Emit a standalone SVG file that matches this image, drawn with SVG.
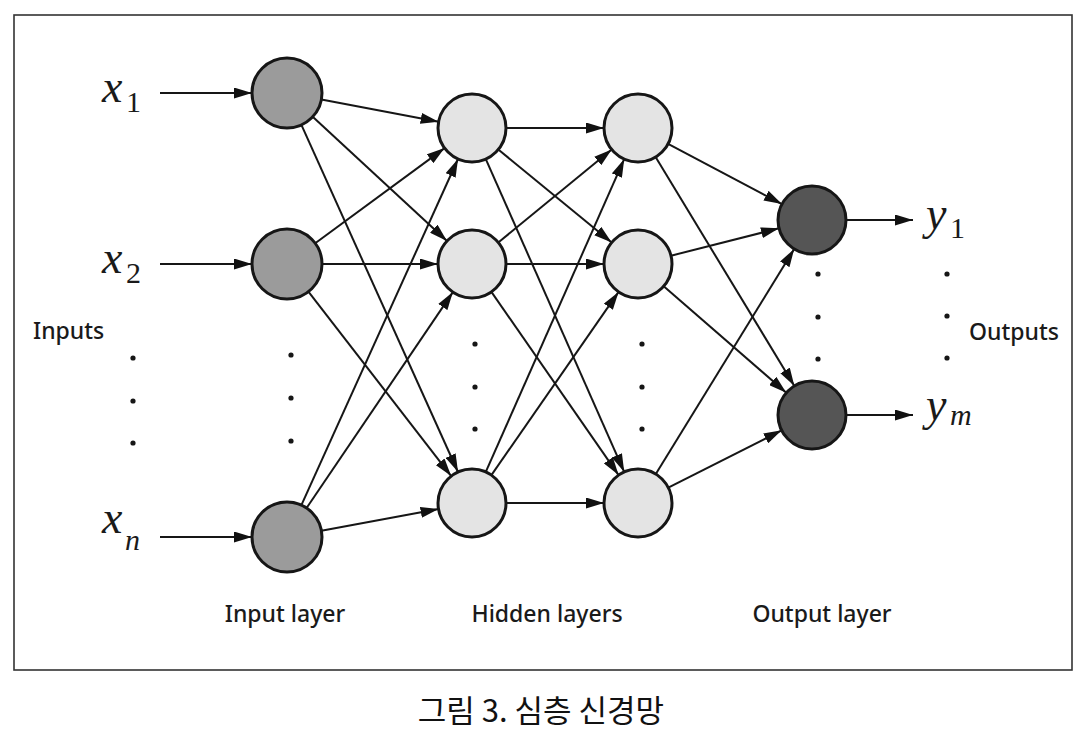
<svg xmlns="http://www.w3.org/2000/svg" width="1088" height="756" viewBox="0 0 1088 756">
<defs>
<marker id="ah" markerUnits="userSpaceOnUse" markerWidth="19" markerHeight="11" refX="18" refY="5.5" orient="auto">
<path d="M0,0 L18,5.5 L0,11 z" fill="#111"/>
</marker>
<style>
.n{stroke:#161616;stroke-width:3}
.in{fill:#9b9b9b}
.hd{fill:#e4e4e4}
.out{fill:#555555}
.e{stroke:#161616;stroke-width:2;fill:none;marker-end:url(#ah)}
.dot{fill:#161616}
.math{font-family:"Liberation Serif",serif;font-style:italic;fill:#1a1a1a}
.sub{font-family:"Liberation Serif",serif;fill:#1a1a1a}
.lbl{font-family:"Noto Sans","DejaVu Sans",sans-serif;font-size:23px;font-weight:500;fill:#1a1a1a}
.cap{font-family:"Noto Sans CJK KR","Noto Sans",sans-serif;font-size:31px;font-weight:400;fill:#111}
</style>
</defs>
<rect x="14" y="15" width="1058" height="655" fill="#fff" stroke="#333" stroke-width="1.6"/>
<g id="connectors">
<line class="e" x1="160" y1="93" x2="252" y2="93"/>
<line class="e" x1="160" y1="264" x2="252" y2="264"/>
<line class="e" x1="160" y1="537" x2="252" y2="537"/>
<line class="e" x1="321.4" y1="99.5" x2="438.6" y2="121.7"/>
<line class="e" x1="312.7" y1="116.8" x2="447" y2="240.9"/>
<line class="e" x1="301.4" y1="124.9" x2="458" y2="472"/>
<line class="e" x1="315.2" y1="243.3" x2="444.6" y2="148.1"/>
<line class="e" x1="322" y1="264" x2="438" y2="264"/>
<line class="e" x1="308.4" y1="291.7" x2="451.2" y2="476.1"/>
<line class="e" x1="301.4" y1="505.1" x2="458" y2="159"/>
<line class="e" x1="306.6" y1="508" x2="452.9" y2="292.1"/>
<line class="e" x1="321.4" y1="530.7" x2="438.6" y2="509.1"/>
<line class="e" x1="506" y1="128" x2="604" y2="128"/>
<line class="e" x1="498.3" y1="149.5" x2="611.7" y2="242.5"/>
<line class="e" x1="485.8" y1="159.1" x2="624.2" y2="471.9"/>
<line class="e" x1="498.3" y1="242.5" x2="611.7" y2="149.5"/>
<line class="e" x1="506" y1="264" x2="604" y2="264"/>
<line class="e" x1="491.4" y1="291.9" x2="618.6" y2="475.1"/>
<line class="e" x1="485.8" y1="471.9" x2="624.2" y2="159.1"/>
<line class="e" x1="491.4" y1="475.1" x2="618.6" y2="291.9"/>
<line class="e" x1="506" y1="503" x2="604" y2="503"/>
<line class="e" x1="668.1" y1="143.9" x2="781.9" y2="204.1"/>
<line class="e" x1="655.6" y1="157.1" x2="794.4" y2="385.9"/>
<line class="e" x1="671" y1="255.7" x2="779" y2="228.3"/>
<line class="e" x1="663.7" y1="286.3" x2="786.3" y2="392.7"/>
<line class="e" x1="655.8" y1="474" x2="794.2" y2="249"/>
<line class="e" x1="668.3" y1="487.7" x2="781.7" y2="430.3"/>
<line class="e" x1="846" y1="220" x2="913" y2="220"/>
<line class="e" x1="846" y1="415" x2="913" y2="415"/>
</g>
<g id="input-layer">
<circle id="i1" class="n in" cx="287" cy="93" r="35"/>
<circle id="i2" class="n in" cx="287" cy="264" r="35"/>
<circle id="in" class="n in" cx="287" cy="537" r="35"/>
</g>
<g id="hidden-layer-1">
<circle id="h1a" class="n hd" cx="472" cy="128" r="34"/>
<circle id="h1b" class="n hd" cx="472" cy="264" r="34"/>
<circle id="h1c" class="n hd" cx="472" cy="503" r="34"/>
</g>
<g id="hidden-layer-2">
<circle id="h2a" class="n hd" cx="638" cy="128" r="34"/>
<circle id="h2b" class="n hd" cx="638" cy="264" r="34"/>
<circle id="h2c" class="n hd" cx="638" cy="503" r="34"/>
</g>
<g id="output-layer">
<circle id="o1" class="n out" cx="812" cy="220" r="34"/>
<circle id="o2" class="n out" cx="812" cy="415" r="34"/>
</g>
<g id="dots">
<circle class="dot" cx="133" cy="358" r="2.6"/><circle class="dot" cx="133" cy="401" r="2.6"/><circle class="dot" cx="133" cy="443" r="2.6"/>
<circle class="dot" cx="291" cy="355" r="2.6"/><circle class="dot" cx="291" cy="398" r="2.6"/><circle class="dot" cx="291" cy="441" r="2.6"/>
<circle class="dot" cx="475" cy="344" r="2.6"/><circle class="dot" cx="475" cy="387" r="2.6"/><circle class="dot" cx="475" cy="429" r="2.6"/>
<circle class="dot" cx="642" cy="344" r="2.6"/><circle class="dot" cx="642" cy="387" r="2.6"/><circle class="dot" cx="642" cy="429" r="2.6"/>
<circle class="dot" cx="818" cy="274" r="2.6"/><circle class="dot" cx="818" cy="317" r="2.6"/><circle class="dot" cx="818" cy="359" r="2.6"/>
<circle class="dot" cx="947" cy="274" r="2.6"/><circle class="dot" cx="947" cy="316" r="2.6"/><circle class="dot" cx="947" cy="358" r="2.6"/>
</g>
<g id="labels">
<text class="math" x="102" y="102" font-size="46">x</text><text class="sub" x="126" y="112" font-size="30">1</text>
<text class="math" x="102" y="273" font-size="46">x</text><text class="sub" x="126" y="283" font-size="30">2</text>
<text class="math" x="102" y="533" font-size="46">x</text><text class="sub math" x="125" y="550" font-size="30">n</text>
<text class="math" x="926" y="229" font-size="46">y</text><text class="sub" x="950" y="238" font-size="30">1</text>
<text class="math" x="926" y="420" font-size="46">y</text><text class="sub math" x="950" y="425" font-size="30">m</text>
<text class="lbl" x="33" y="339">Inputs</text>
<text class="lbl" x="969" y="340">Outputs</text>
<text class="lbl" x="285" y="622" text-anchor="middle">Input layer</text>
<text class="lbl" x="547" y="622" text-anchor="middle">Hidden layers</text>
<text class="lbl" x="822" y="622" text-anchor="middle">Output layer</text>
<text class="cap" x="541" y="722" text-anchor="middle">그림 3. 심층 신경망</text>
</g>
</svg>
